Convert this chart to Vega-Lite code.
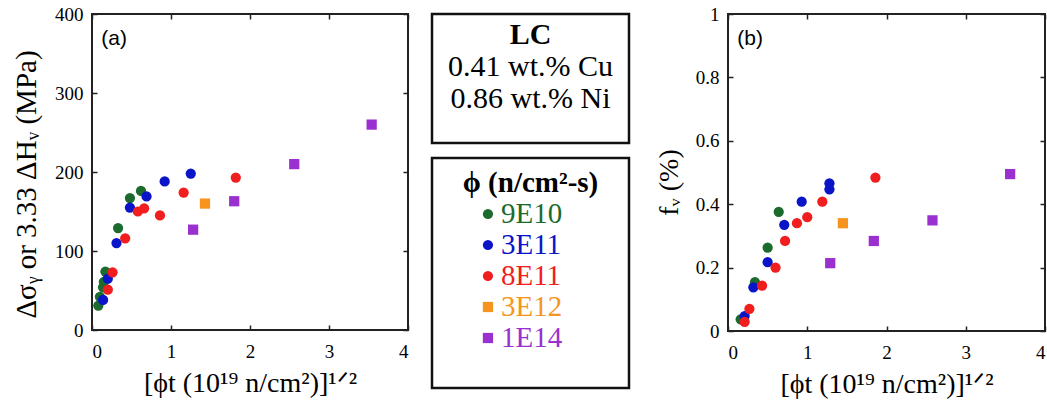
{
  "$schema": "https://vega.github.io/schema/vega-lite/v6.json",
  "padding": {"left": 11, "top": 4, "right": 0, "bottom": 0},
  "background": "white",
  "config": {
    "view": {"stroke": "#222222", "strokeWidth": 2},
    "font": "Liberation Serif",
    "text": {"font": "Liberation Serif"},
    "axis": {
      "grid": false,
      "domain": false,
      "tickColor": "#222222",
      "tickWidth": 1.5,
      "tickSize": 5,
      "offset": -5,
      "labelFont": "Liberation Serif",
      "labelFontSize": 19,
      "labelColor": "#000000",
      "titleFont": "Liberation Serif",
      "titleFontSize": 28,
      "titleFontWeight": "normal",
      "titleColor": "#000000"
    }
  },
  "datasets": {
    "a": [
      {"series": "9E10", "x": 0.08, "y": 31},
      {"series": "9E10", "x": 0.10, "y": 42},
      {"series": "9E10", "x": 0.14, "y": 54},
      {"series": "9E10", "x": 0.15, "y": 61},
      {"series": "9E10", "x": 0.17, "y": 74},
      {"series": "9E10", "x": 0.33, "y": 129},
      {"series": "9E10", "x": 0.48, "y": 167},
      {"series": "9E10", "x": 0.62, "y": 176},
      {"series": "3E11", "x": 0.14, "y": 38},
      {"series": "3E11", "x": 0.20, "y": 65},
      {"series": "3E11", "x": 0.31, "y": 110},
      {"series": "3E11", "x": 0.48, "y": 155},
      {"series": "3E11", "x": 0.69, "y": 169},
      {"series": "3E11", "x": 0.92, "y": 188},
      {"series": "3E11", "x": 1.25, "y": 198},
      {"series": "8E11", "x": 0.20, "y": 51},
      {"series": "8E11", "x": 0.26, "y": 73},
      {"series": "8E11", "x": 0.42, "y": 116},
      {"series": "8E11", "x": 0.58, "y": 150},
      {"series": "8E11", "x": 0.66, "y": 154},
      {"series": "8E11", "x": 0.86, "y": 145},
      {"series": "8E11", "x": 1.16, "y": 174},
      {"series": "8E11", "x": 1.82, "y": 193},
      {"series": "3E12", "x": 1.43, "y": 160},
      {"series": "1E14", "x": 1.28, "y": 127},
      {"series": "1E14", "x": 1.80, "y": 163},
      {"series": "1E14", "x": 2.56, "y": 210},
      {"series": "1E14", "x": 3.54, "y": 260}
    ],
    "b": [
      {"series": "9E10", "x": 0.16, "y": 0.037},
      {"series": "9E10", "x": 0.34, "y": 0.154},
      {"series": "9E10", "x": 0.50, "y": 0.263},
      {"series": "9E10", "x": 0.64, "y": 0.376},
      {"series": "3E11", "x": 0.21, "y": 0.047},
      {"series": "3E11", "x": 0.32, "y": 0.138},
      {"series": "3E11", "x": 0.50, "y": 0.217},
      {"series": "3E11", "x": 0.71, "y": 0.335},
      {"series": "3E11", "x": 0.93, "y": 0.408},
      {"series": "3E11", "x": 1.28, "y": 0.447},
      {"series": "3E11", "x": 1.28, "y": 0.466},
      {"series": "8E11", "x": 0.21, "y": 0.029},
      {"series": "8E11", "x": 0.27, "y": 0.070},
      {"series": "8E11", "x": 0.43, "y": 0.143},
      {"series": "8E11", "x": 0.60, "y": 0.200},
      {"series": "8E11", "x": 0.72, "y": 0.284},
      {"series": "8E11", "x": 0.87, "y": 0.340},
      {"series": "8E11", "x": 1.00, "y": 0.359},
      {"series": "8E11", "x": 1.19, "y": 0.408},
      {"series": "8E11", "x": 1.86, "y": 0.484},
      {"series": "3E12", "x": 1.45, "y": 0.340},
      {"series": "1E14", "x": 1.29, "y": 0.214},
      {"series": "1E14", "x": 1.84, "y": 0.284},
      {"series": "1E14", "x": 2.58, "y": 0.349},
      {"series": "1E14", "x": 3.56, "y": 0.495}
    ],
    "legendRows": [
      {"row": "9E10"}, {"row": "3E11"}, {"row": "8E11"}, {"row": "3E12"}, {"row": "1E14"}
    ]
  },
  "bounds": "flush",
  "spacing": 24,
  "hconcat": [
    {
      "width": 316,
      "height": 316,
      "layer": [
        {
          "data": {"name": "a"},
          "mark": {"type": "point", "filled": true, "opacity": 1},
          "encoding": {
            "x": {"field": "x", "type": "quantitative", "scale": {"domain": [0, 4], "nice": false},
                  "axis": {"orient": "bottom", "values": [0, 1, 2, 3, 4], "labelPadding": 12, "titlePadding": 8, "title": "[ϕt (10¹⁹ n/cm²)]¹ᐟ²"}},
            "y": {"field": "y", "type": "quantitative", "scale": {"domain": [0, 400], "nice": false},
                  "axis": {"orient": "left", "values": [0, 100, 200, 300, 400], "labelPadding": 9, "titlePadding": 13, "titleY": 170, "titleFontSize": 29, "title": "Δσᵧ or 3.33 ΔHᵥ (MPa)"}},
            "color": {"field": "series", "type": "nominal", "scale": {"domain": ["9E10", "3E11", "8E11", "3E12", "1E14"], "range": ["#1b6b2e", "#0a14c8", "#f01e1e", "#f7941d", "#9b30d0"]}, "legend": null},
            "shape": {"field": "series", "type": "nominal", "scale": {"domain": ["9E10", "3E11", "8E11", "3E12", "1E14"], "range": ["circle", "circle", "circle", "square", "square"]}, "legend": null},
            "size": {"field": "series", "type": "nominal", "scale": {"domain": ["9E10", "3E11", "8E11", "3E12", "1E14"], "range": [105, 105, 105, 125, 125]}, "legend": null}
          }
        },
        {
          "data": {"name": "a"},
          "mark": {"type": "point", "opacity": 0},
          "encoding": {
            "x": {"field": "x", "type": "quantitative", "axis": {"orient": "top", "values": [0, 1, 2, 3, 4], "labels": false, "title": null}},
            "y": {"field": "y", "type": "quantitative", "axis": {"orient": "right", "values": [0, 100, 200, 300, 400], "labels": false, "title": null}}
          }
        },
        {
          "data": {"values": [{"lab": "(a)"}]},
          "mark": {"type": "text", "font": "Liberation Sans", "fontSize": 21, "color": "#000000"},
          "encoding": {
            "x": {"datum": 0.28, "type": "quantitative", "axis": null},
            "y": {"datum": 368, "type": "quantitative", "axis": null},
            "text": {"field": "lab"}
          }
        }
      ],
      "resolve": {"axis": {"x": "independent", "y": "independent"}}
    },
    {
      "bounds": "flush",
      "spacing": 15,
      "vconcat": [
        {
          "width": 197,
          "height": 129,
          "view": {"stroke": "#111111", "strokeWidth": 2.5},
          "layer": [
            {
              "data": {"values": [{"t": "LC"}]},
              "mark": {"type": "text", "font": "Liberation Serif", "fontSize": 30, "fontWeight": "bold", "color": "#000000"},
              "encoding": {
                "x": {"datum": 0.5, "type": "quantitative", "scale": {"domain": [0, 1]}, "axis": null},
                "y": {"field": "t", "type": "ordinal", "scale": {"type": "point", "padding": 0, "domain": ["LC", "0.41 wt.% Cu", "0.86 wt.% Ni"], "range": [21, 85]}, "axis": null},
                "text": {"field": "t"}
              }
            },
            {
              "data": {"values": [{"t": "0.41 wt.% Cu"}, {"t": "0.86 wt.% Ni"}]},
              "mark": {"type": "text", "font": "Liberation Serif", "fontSize": 30, "color": "#000000"},
              "encoding": {
                "x": {"datum": 0.5, "type": "quantitative"},
                "y": {"field": "t", "type": "ordinal"},
                "text": {"field": "t"}
              }
            }
          ]
        },
        {
          "width": 197,
          "height": 230,
          "view": {"stroke": "#111111", "strokeWidth": 2.5},
          "layer": [
            {
              "data": {"values": [{"row": "ϕ (n/cm²-s)"}]},
              "mark": {"type": "text", "font": "Liberation Serif", "fontSize": 29, "fontWeight": "bold", "color": "#000000"},
              "encoding": {
                "x": {"datum": 0.5, "type": "quantitative", "scale": {"domain": [0, 1]}, "axis": null},
                "y": {"field": "row", "type": "ordinal", "scale": {"type": "point", "padding": 0, "domain": ["ϕ (n/cm²-s)", "9E10", "3E11", "8E11", "3E12", "1E14"], "range": [25, 180]}, "axis": null},
                "text": {"field": "row"}
              }
            },
            {
              "data": {"name": "legendRows"},
              "mark": {"type": "point", "filled": true, "opacity": 1},
              "encoding": {
                "x": {"datum": 0.284, "type": "quantitative"},
                "y": {"field": "row", "type": "ordinal"},
                "color": {"field": "row", "type": "nominal", "scale": {"domain": ["9E10", "3E11", "8E11", "3E12", "1E14"], "range": ["#1b6b2e", "#0a14c8", "#f01e1e", "#f7941d", "#9b30d0"]}, "legend": null},
                "shape": {"field": "row", "type": "nominal", "scale": {"domain": ["9E10", "3E11", "8E11", "3E12", "1E14"], "range": ["circle", "circle", "circle", "square", "square"]}, "legend": null},
                "size": {"field": "row", "type": "nominal", "scale": {"domain": ["9E10", "3E11", "8E11", "3E12", "1E14"], "range": [55, 55, 55, 60, 60]}, "legend": null}
              }
            },
            {
              "data": {"name": "legendRows"},
              "mark": {"type": "text", "font": "Liberation Serif", "fontSize": 29, "align": "left"},
              "encoding": {
                "x": {"datum": 0.35, "type": "quantitative"},
                "y": {"field": "row", "type": "ordinal"},
                "color": {"field": "row", "type": "nominal"},
                "text": {"field": "row"}
              }
            }
          ]
        }
      ]
    },
    {
      "width": 248,
      "height": 316,
      "view": {"stroke": null},
      "data": {"values": [{}]},
      "mark": {"type": "text", "text": ""},
      "encoding": {}
    },
    {
      "width": 317,
      "height": 317,
      "layer": [
        {
          "data": {"name": "b"},
          "mark": {"type": "point", "filled": true, "opacity": 1},
          "encoding": {
            "x": {"field": "x", "type": "quantitative", "scale": {"domain": [0, 4], "nice": false},
                  "axis": {"orient": "bottom", "values": [0, 1, 2, 3, 4], "labelPadding": 12, "titlePadding": 8, "title": "[ϕt (10¹⁹ n/cm²)]¹ᐟ²"}},
            "y": {"field": "y", "type": "quantitative", "scale": {"domain": [0, 1], "nice": false},
                  "axis": {"orient": "left", "values": [0, 0.2, 0.4, 0.6, 0.8, 1], "format": "~g", "labelPadding": 9, "titlePadding": 12, "titleY": 168, "title": "fᵥ (%)"}},
            "color": {"field": "series", "type": "nominal", "scale": {"domain": ["9E10", "3E11", "8E11", "3E12", "1E14"], "range": ["#1b6b2e", "#0a14c8", "#f01e1e", "#f7941d", "#9b30d0"]}, "legend": null},
            "shape": {"field": "series", "type": "nominal", "scale": {"domain": ["9E10", "3E11", "8E11", "3E12", "1E14"], "range": ["circle", "circle", "circle", "square", "square"]}, "legend": null},
            "size": {"field": "series", "type": "nominal", "scale": {"domain": ["9E10", "3E11", "8E11", "3E12", "1E14"], "range": [105, 105, 105, 125, 125]}, "legend": null}
          }
        },
        {
          "data": {"name": "b"},
          "mark": {"type": "point", "opacity": 0},
          "encoding": {
            "x": {"field": "x", "type": "quantitative", "axis": {"orient": "top", "values": [0, 1, 2, 3, 4], "labels": false, "title": null}},
            "y": {"field": "y", "type": "quantitative", "axis": {"orient": "right", "values": [0, 0.2, 0.4, 0.6, 0.8, 1], "labels": false, "title": null}}
          }
        },
        {
          "data": {"values": [{"lab": "(b)"}]},
          "mark": {"type": "text", "font": "Liberation Sans", "fontSize": 21, "color": "#000000"},
          "encoding": {
            "x": {"datum": 0.28, "type": "quantitative", "axis": null},
            "y": {"datum": 0.92, "type": "quantitative", "axis": null},
            "text": {"field": "lab"}
          }
        }
      ],
      "resolve": {"axis": {"x": "independent", "y": "independent"}}
    }
  ]
}
